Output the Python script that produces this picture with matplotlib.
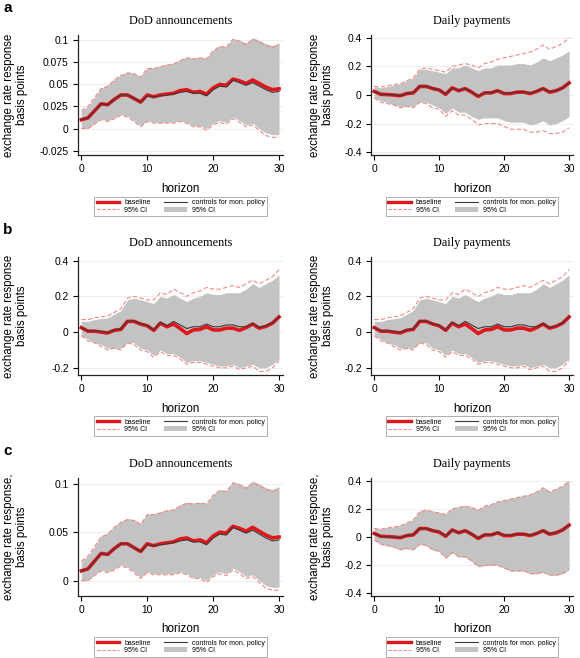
import numpy as np
import matplotlib
matplotlib.use("Agg")
import matplotlib.pyplot as plt
from matplotlib.lines import Line2D
from matplotlib.patches import Patch

plt.rcParams["font.family"] = ["Liberation Sans", "DejaVu Sans"]

horizon = np.arange(31)

# DoD announcements (panels a and c, left)
dod_base = [0.010, 0.012, 0.020, 0.028, 0.027, 0.033, 0.038, 0.038, 0.034, 0.030, 0.038,
            0.036, 0.038, 0.039, 0.040, 0.043, 0.044, 0.041, 0.042, 0.039, 0.046,
            0.050, 0.049, 0.056, 0.054, 0.051, 0.055, 0.051, 0.047, 0.044, 0.045]
dod_base_hi = [0.020, 0.025, 0.035, 0.045, 0.048, 0.055, 0.060, 0.063, 0.062, 0.058, 0.068,
               0.068, 0.070, 0.072, 0.073, 0.077, 0.080, 0.079, 0.080, 0.079, 0.088,
               0.093, 0.092, 0.101, 0.099, 0.095, 0.101, 0.098, 0.094, 0.092, 0.095]
dod_base_lo = [0.000, 0.000, 0.005, 0.010, 0.008, 0.011, 0.015, 0.013, 0.008, 0.002, 0.008,
               0.006, 0.006, 0.006, 0.006, 0.008, 0.006, 0.002, 0.002, -0.002, 0.004,
               0.007, 0.005, 0.011, 0.007, 0.002, 0.004, -0.002, -0.008, -0.010, -0.010]
dod_ctrl = [0.010, 0.012, 0.020, 0.028, 0.027, 0.033, 0.038, 0.038, 0.034, 0.030, 0.037,
            0.036, 0.037, 0.038, 0.039, 0.041, 0.042, 0.040, 0.040, 0.037, 0.044,
            0.048, 0.047, 0.055, 0.052, 0.049, 0.052, 0.048, 0.044, 0.041, 0.042]
dod_ctrl_hi = [0.020, 0.025, 0.035, 0.046, 0.049, 0.056, 0.061, 0.064, 0.063, 0.059, 0.069,
               0.069, 0.071, 0.073, 0.074, 0.078, 0.081, 0.080, 0.081, 0.080, 0.089,
               0.094, 0.093, 0.102, 0.100, 0.097, 0.103, 0.100, 0.096, 0.094, 0.097]
dod_ctrl_lo = [0.000, 0.000, 0.006, 0.011, 0.009, 0.012, 0.016, 0.014, 0.009, 0.003, 0.009,
               0.007, 0.007, 0.007, 0.007, 0.009, 0.007, 0.003, 0.003, 0.000, 0.006,
               0.009, 0.007, 0.013, 0.009, 0.004, 0.006, 0.000, -0.005, -0.007, -0.007]

# Daily payments baseline (panels a and c, right)
pay_base = [0.025, 0.005, 0.003, 0.000, -0.005, 0.010, 0.015, 0.060, 0.060, 0.045, 0.035,
            0.005, 0.050, 0.030, 0.045, 0.020, -0.010, 0.015, 0.015, 0.030, 0.010,
            0.010, 0.020, 0.020, 0.010, 0.025, 0.045, 0.020, 0.030, 0.050, 0.085]
pay_base_hi = [0.06, 0.055, 0.065, 0.07, 0.08, 0.10, 0.12, 0.18, 0.19, 0.18, 0.17,
               0.16, 0.20, 0.21, 0.22, 0.21, 0.19, 0.22, 0.23, 0.25, 0.26,
               0.27, 0.28, 0.29, 0.30, 0.32, 0.35, 0.32, 0.34, 0.36, 0.40]
pay_base_lo = [-0.02, -0.05, -0.06, -0.07, -0.09, -0.08, -0.09, -0.05, -0.06, -0.09, -0.10,
               -0.15, -0.11, -0.14, -0.14, -0.17, -0.21, -0.20, -0.20, -0.20, -0.22,
               -0.24, -0.24, -0.24, -0.26, -0.26, -0.25, -0.27, -0.27, -0.26, -0.23]
pay_ctrl = [0.025, 0.005, 0.003, 0.000, -0.005, 0.010, 0.015, 0.062, 0.062, 0.046, 0.036,
            0.006, 0.050, 0.031, 0.046, 0.021, -0.008, 0.016, 0.016, 0.031, 0.012,
            0.012, 0.022, 0.022, 0.012, 0.027, 0.046, 0.022, 0.031, 0.050, 0.085]
pay_ctrl_hi = [0.06, 0.05, 0.06, 0.07, 0.08, 0.10, 0.12, 0.18, 0.18, 0.17, 0.16,
               0.15, 0.19, 0.19, 0.21, 0.19, 0.17, 0.19, 0.19, 0.21, 0.21,
               0.21, 0.22, 0.22, 0.21, 0.23, 0.26, 0.24, 0.26, 0.28, 0.31]
pay_ctrl_lo = [-0.02, -0.04, -0.05, -0.07, -0.08, -0.08, -0.08, -0.05, -0.05, -0.07, -0.09,
               -0.13, -0.09, -0.12, -0.12, -0.15, -0.17, -0.16, -0.16, -0.16, -0.18,
               -0.19, -0.19, -0.19, -0.21, -0.20, -0.18, -0.21, -0.20, -0.18, -0.15]
# panel c, right: controls band matches the baseline band
payc_ctrl_hi = [0.065, 0.058, 0.068, 0.073, 0.083, 0.103, 0.124, 0.185, 0.195, 0.185, 0.175,
                0.165, 0.205, 0.215, 0.225, 0.215, 0.195, 0.225, 0.235, 0.255, 0.265,
                0.275, 0.285, 0.295, 0.305, 0.325, 0.355, 0.325, 0.345, 0.365, 0.405]
payc_ctrl_lo = [-0.025, -0.053, -0.063, -0.073, -0.093, -0.083, -0.093, -0.053, -0.063, -0.093, -0.103,
                -0.153, -0.113, -0.143, -0.143, -0.173, -0.213, -0.203, -0.203, -0.203, -0.223,
                -0.243, -0.243, -0.243, -0.263, -0.263, -0.253, -0.273, -0.273, -0.263, -0.233]

# Panel b (both columns)
b_base = [0.025, 0.005, 0.005, 0.000, -0.005, 0.010, 0.015, 0.060, 0.060, 0.045, 0.035,
          0.010, 0.050, 0.030, 0.045, 0.020, -0.008, 0.012, 0.015, 0.030, 0.012,
          0.012, 0.022, 0.022, 0.010, 0.025, 0.045, 0.022, 0.032, 0.050, 0.085]
b_base_hi = [0.07, 0.07, 0.08, 0.085, 0.09, 0.11, 0.13, 0.19, 0.20, 0.19, 0.18,
             0.18, 0.22, 0.21, 0.24, 0.22, 0.20, 0.22, 0.23, 0.25, 0.24,
             0.24, 0.25, 0.26, 0.25, 0.27, 0.29, 0.27, 0.29, 0.31, 0.35]
b_base_lo = [-0.02, -0.05, -0.06, -0.08, -0.10, -0.09, -0.10, -0.06, -0.07, -0.10, -0.11,
             -0.14, -0.11, -0.13, -0.13, -0.15, -0.18, -0.17, -0.17, -0.18, -0.19,
             -0.20, -0.20, -0.19, -0.21, -0.20, -0.19, -0.22, -0.22, -0.20, -0.16]
b_ctrl = [0.025, 0.008, 0.008, 0.003, -0.002, 0.012, 0.018, 0.062, 0.062, 0.047, 0.037,
          0.012, 0.055, 0.035, 0.060, 0.040, 0.020, 0.030, 0.030, 0.045, 0.030,
          0.030, 0.040, 0.040, 0.030, 0.030, 0.048, 0.025, 0.035, 0.052, 0.085]
b_ctrl_hi = [0.06, 0.06, 0.07, 0.075, 0.08, 0.10, 0.12, 0.18, 0.19, 0.18, 0.17,
             0.16, 0.20, 0.19, 0.21, 0.19, 0.17, 0.19, 0.20, 0.22, 0.21,
             0.21, 0.22, 0.22, 0.22, 0.24, 0.27, 0.25, 0.27, 0.29, 0.32]
b_ctrl_lo = [-0.02, -0.04, -0.06, -0.07, -0.09, -0.09, -0.09, -0.06, -0.06, -0.09, -0.10,
             -0.13, -0.10, -0.12, -0.12, -0.14, -0.17, -0.16, -0.16, -0.17, -0.18,
             -0.19, -0.19, -0.18, -0.20, -0.19, -0.18, -0.20, -0.20, -0.18, -0.15]

dod = dict(base=dod_base, hi=dod_base_hi, lo=dod_base_lo, ctrl=dod_ctrl, chi=dod_ctrl_hi, clo=dod_ctrl_lo)
pay = dict(base=pay_base, hi=pay_base_hi, lo=pay_base_lo, ctrl=pay_ctrl, chi=pay_ctrl_hi, clo=pay_ctrl_lo)
payc = dict(base=pay_base, hi=pay_base_hi, lo=pay_base_lo, ctrl=pay_ctrl, chi=payc_ctrl_hi, clo=payc_ctrl_lo)
bdat = dict(base=b_base, hi=b_base_hi, lo=b_base_lo, ctrl=b_ctrl, chi=b_ctrl_hi, clo=b_ctrl_lo)

RED = "#e0161b"
PINK = "#f08a8a"
BAND = "#c3c3c3"

W, H = 580, 658
fig = plt.figure(figsize=(W / 100, H / 100), dpi=100)


def px(x0, y0, x1, y1):
    return [x0 / W, 1 - y1 / H, (x1 - x0) / W, (y1 - y0) / H]


rows = [
    ("a", 35, 155, "exchange rate response\nbasis points",
     [(dod, "DoD announcements", (-0.03, 0.106), [-0.025, 0, 0.025, 0.05, 0.075, 0.1],
       ["-0.025", "0", "0.025", "0.05", "0.075", "0.1"]),
      (pay, "Daily payments", (-0.42, 0.42), [-0.4, -0.2, 0, 0.2, 0.4],
       ["-0.4", "-0.2", "0", "0.2", "0.4"])]),
    ("b", 257, 375, "exchange rate response\nbasis points",
     [(bdat, "DoD announcements", (-0.24, 0.42), [-0.2, 0, 0.2, 0.4], ["-0.2", "0", "0.2", "0.4"]),
      (bdat, "Daily payments", (-0.24, 0.42), [-0.2, 0, 0.2, 0.4], ["-0.2", "0", "0.2", "0.4"])]),
    ("c", 478, 596, "exchange rate response,\nbasis points",
     [(dod, "DoD announcements", (-0.016, 0.106), [0, 0.05, 0.1], ["0", "0.05", "0.1"]),
      (payc, "Daily payments", (-0.42, 0.42), [-0.4, -0.2, 0, 0.2, 0.4],
       ["-0.4", "-0.2", "0", "0.2", "0.4"])]),
]

cols = [(78, 283), (371, 573)]
label_right = [28, 334]   # pixel x of right edge of the y label block

for letter, top, bot, ylab, panels in rows:
    fig.text(3 / W, 1 - (top - 27) / H, letter, fontsize=11, fontweight="bold",
             ha="left", va="center")
    for (x0, x1), lx, (d, title, ylim, yt, ytl) in zip(cols, label_right, panels):
        ax = fig.add_axes(px(x0, top, x1, bot))
        ax.fill_between(horizon, d["clo"], d["chi"], color=BAND, lw=0, zorder=2)
        ax.plot(horizon, d["hi"], color=PINK, lw=0.8, ls=(0, (4, 2)), zorder=3)
        ax.plot(horizon, d["lo"], color=PINK, lw=0.8, ls=(0, (4, 2)), zorder=3)
        ax.plot(horizon, d["base"], color=RED, lw=2.6, zorder=4)
        ax.plot(horizon, d["ctrl"], color="#3a3a3a", lw=0.8, zorder=5)
        ax.set_xlim(-0.5, 30.6)
        ax.set_ylim(*ylim)
        ax.set_xticks([0, 10, 20, 30])
        ax.set_yticks(yt)
        ax.set_yticklabels(ytl)
        for t in yt:
            ax.axhline(t, color="#eeeeee", lw=0.8, zorder=1)
        for s in ["top", "right"]:
            ax.spines[s].set_visible(False)
        for s in ["left", "bottom"]:
            ax.spines[s].set_color("#222222")
            ax.spines[s].set_linewidth(0.9)
        ax.tick_params(direction="out", length=3.6, width=0.8, labelsize=7.4, pad=3)
        ax.set_title(title, fontsize=8.8, family="Liberation Serif", pad=8)
        ax.set_xlabel("horizon", fontsize=8.4, labelpad=6)
        ax.set_ylabel(ylab, fontsize=8.3, linespacing=1.1)
        ax.yaxis.set_label_coords((lx - x0) / (x1 - x0), 0.5)
        handles = [Line2D([], [], color=RED, lw=2.4),
                   Line2D([], [], color=PINK, lw=0.8, ls=(0, (3, 1.5))),
                   Line2D([], [], color="#3a3a3a", lw=0.8),
                   Patch(facecolor=BAND, edgecolor="none")]
        labels = ["baseline", "95% CI", "controls for mon. policy", "95% CI"]
        leg = ax.legend(handles, labels, ncol=2, loc="upper center",
                        bbox_to_anchor=(0.5, -0.35), fontsize=5, frameon=True,
                        fancybox=False, edgecolor="#999999", borderpad=0.35,
                        handlelength=3.3, handleheight=0.6, handletextpad=0.7,
                        columnspacing=1.9, labelspacing=0.05, borderaxespad=0)
        leg.get_frame().set_linewidth(0.7)

fig.savefig("out.png", dpi=100)
